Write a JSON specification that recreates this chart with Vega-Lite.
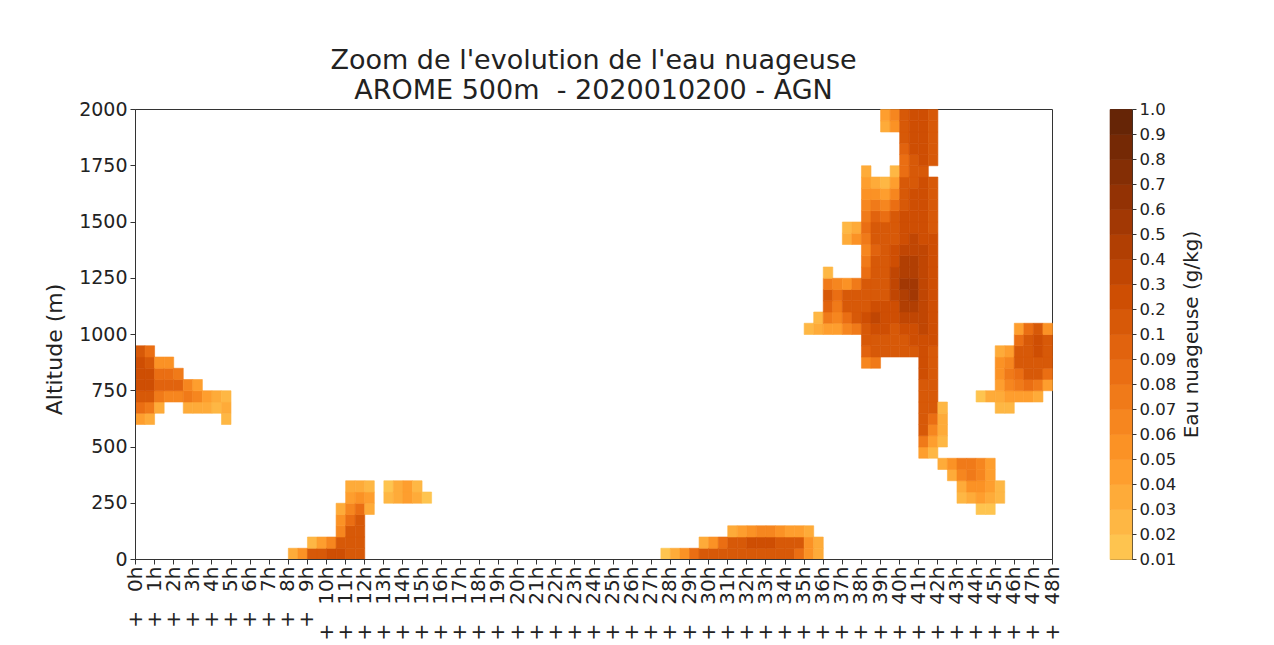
{
 "$schema": "https://vega.github.io/schema/vega-lite/v6.json",
 "background": "white",
 "padding": {"left": 43, "top": 46, "right": 5, "bottom": 5},
 "config": {"font": "DejaVu Sans", "view": {"stroke": "#333", "strokeWidth": 1}, "axis": {"grid": false, "domainColor": "#333", "tickColor": "#333", "labelColor": "#222", "titleColor": "#222", "titleFontWeight": "normal"}},
 "bounds": "flush",
 "spacing": 58,
 "resolve": {"scale": {"color": "independent", "stroke": "independent"}},
 "hconcat": [
  {
   "width": 917, "height": 450,
   "title": {"text": ["Zoom de l'evolution de l'eau nuageuse", "AROME 500m\u00a0 - 2020010200 - AGN"], "fontSize": 27, "fontWeight": "normal", "lineHeight": 30, "anchor": "middle", "offset": -5, "color": "#222"},
   "data": {"values": [
{"h":0,"a":600,"q":0.04},{"h":0,"a":650,"q":0.08},{"h":0,"a":700,"q":0.15},{"h":0,"a":750,"q":0.25},{"h":0,"a":800,"q":0.25},{"h":0,"a":850,"q":0.2},{"h":0,"a":900,"q":0.12},
{"h":0.5,"a":600,"q":0.03},{"h":0.5,"a":650,"q":0.07},{"h":0.5,"a":700,"q":0.12},{"h":0.5,"a":750,"q":0.2},{"h":0.5,"a":800,"q":0.2},{"h":0.5,"a":850,"q":0.15},{"h":0.5,"a":900,"q":0.08},
{"h":1,"a":650,"q":0.03},{"h":1,"a":700,"q":0.07},{"h":1,"a":750,"q":0.09},{"h":1,"a":800,"q":0.08},{"h":1,"a":850,"q":0.05},
{"h":1.5,"a":700,"q":0.06},{"h":1.5,"a":750,"q":0.09},{"h":1.5,"a":800,"q":0.08},{"h":1.5,"a":850,"q":0.05},
{"h":2,"a":700,"q":0.06},{"h":2,"a":750,"q":0.09},{"h":2,"a":800,"q":0.07},
{"h":2.5,"a":650,"q":0.03},{"h":2.5,"a":700,"q":0.07},{"h":2.5,"a":750,"q":0.06},
{"h":3,"a":650,"q":0.03},{"h":3,"a":700,"q":0.06},{"h":3,"a":750,"q":0.04},
{"h":3.5,"a":650,"q":0.03},{"h":3.5,"a":700,"q":0.04},
{"h":4,"a":650,"q":0.02},{"h":4,"a":700,"q":0.03},
{"h":4.5,"a":600,"q":0.02},{"h":4.5,"a":650,"q":0.03},{"h":4.5,"a":700,"q":0.02},
{"h":8,"a":0,"q":0.03},{"h":8.5,"a":0,"q":0.05},{"h":9,"a":0,"q":0.1},{"h":9,"a":50,"q":0.02},{"h":9.5,"a":0,"q":0.15},{"h":9.5,"a":50,"q":0.04},{"h":10,"a":0,"q":0.2},{"h":10,"a":50,"q":0.06},
{"h":10.5,"a":0,"q":0.2},{"h":10.5,"a":50,"q":0.1},{"h":10.5,"a":100,"q":0.06},{"h":10.5,"a":150,"q":0.05},{"h":10.5,"a":200,"q":0.03},
{"h":11,"a":0,"q":0.15},{"h":11,"a":50,"q":0.12},{"h":11,"a":100,"q":0.1},{"h":11,"a":150,"q":0.08},{"h":11,"a":200,"q":0.06},{"h":11,"a":250,"q":0.04},{"h":11,"a":300,"q":0.03},
{"h":11.5,"a":0,"q":0.1},{"h":11.5,"a":50,"q":0.15},{"h":11.5,"a":100,"q":0.12},{"h":11.5,"a":150,"q":0.1},{"h":11.5,"a":200,"q":0.08},{"h":11.5,"a":250,"q":0.05},{"h":11.5,"a":300,"q":0.03},
{"h":12,"a":200,"q":0.03},{"h":12,"a":250,"q":0.04},{"h":12,"a":300,"q":0.02},
{"h":13,"a":250,"q":0.02},{"h":13,"a":300,"q":0.015},{"h":13.5,"a":250,"q":0.03},{"h":13.5,"a":300,"q":0.03},{"h":14,"a":250,"q":0.04},{"h":14,"a":300,"q":0.04},{"h":14.5,"a":250,"q":0.03},{"h":14.5,"a":300,"q":0.02},{"h":15,"a":250,"q":0.015},
{"h":27.5,"a":0,"q":0.015},{"h":28,"a":0,"q":0.03},{"h":28.5,"a":0,"q":0.05},{"h":29,"a":0,"q":0.08},
{"h":29.5,"a":0,"q":0.1},{"h":29.5,"a":50,"q":0.03},
{"h":30,"a":0,"q":0.15},{"h":30,"a":50,"q":0.05},
{"h":30.5,"a":0,"q":0.15},{"h":30.5,"a":50,"q":0.08},
{"h":31,"a":0,"q":0.15},{"h":31,"a":50,"q":0.1},{"h":31,"a":100,"q":0.03},
{"h":31.5,"a":0,"q":0.12},{"h":31.5,"a":50,"q":0.12},{"h":31.5,"a":100,"q":0.04},
{"h":32,"a":0,"q":0.12},{"h":32,"a":50,"q":0.2},{"h":32,"a":100,"q":0.05},
{"h":32.5,"a":0,"q":0.12},{"h":32.5,"a":50,"q":0.22},{"h":32.5,"a":100,"q":0.06},
{"h":33,"a":0,"q":0.12},{"h":33,"a":50,"q":0.25},{"h":33,"a":100,"q":0.06},
{"h":33.5,"a":0,"q":0.1},{"h":33.5,"a":50,"q":0.15},{"h":33.5,"a":100,"q":0.05},
{"h":34,"a":0,"q":0.1},{"h":34,"a":50,"q":0.12},{"h":34,"a":100,"q":0.04},
{"h":34.5,"a":0,"q":0.08},{"h":34.5,"a":50,"q":0.1},{"h":34.5,"a":100,"q":0.04},
{"h":35,"a":0,"q":0.05},{"h":35,"a":50,"q":0.05},{"h":35,"a":100,"q":0.03},
{"h":35.5,"a":0,"q":0.03},{"h":35.5,"a":50,"q":0.03},
{"h":35,"a":1000,"q":0.02},
{"h":35.5,"a":1000,"q":0.03},{"h":35.5,"a":1050,"q":0.02},
{"h":36,"a":1000,"q":0.04},{"h":36,"a":1050,"q":0.07},{"h":36,"a":1100,"q":0.09},{"h":36,"a":1150,"q":0.12},{"h":36,"a":1200,"q":0.07},{"h":36,"a":1250,"q":0.02},
{"h":36.5,"a":1000,"q":0.04},{"h":36.5,"a":1050,"q":0.06},{"h":36.5,"a":1100,"q":0.07},{"h":36.5,"a":1150,"q":0.08},{"h":36.5,"a":1200,"q":0.06},
{"h":37,"a":1000,"q":0.06},{"h":37,"a":1050,"q":0.08},{"h":37,"a":1100,"q":0.1},{"h":37,"a":1150,"q":0.12},{"h":37,"a":1200,"q":0.05},{"h":37,"a":1400,"q":0.03},{"h":37,"a":1450,"q":0.02},
{"h":37.5,"a":1000,"q":0.07},{"h":37.5,"a":1050,"q":0.1},{"h":37.5,"a":1100,"q":0.12},{"h":37.5,"a":1150,"q":0.12},{"h":37.5,"a":1200,"q":0.07},{"h":37.5,"a":1400,"q":0.05},{"h":37.5,"a":1450,"q":0.03},
{"h":38,"a":850,"q":0.06},{"h":38,"a":900,"q":0.09},{"h":38,"a":950,"q":0.12},{"h":38,"a":1000,"q":0.15},{"h":38,"a":1050,"q":0.2},{"h":38,"a":1100,"q":0.15},{"h":38,"a":1150,"q":0.12},{"h":38,"a":1200,"q":0.1},{"h":38,"a":1250,"q":0.08},{"h":38,"a":1300,"q":0.07},{"h":38,"a":1350,"q":0.06},{"h":38,"a":1400,"q":0.07},{"h":38,"a":1450,"q":0.08},{"h":38,"a":1500,"q":0.07},{"h":38,"a":1550,"q":0.06},{"h":38,"a":1600,"q":0.05},{"h":38,"a":1650,"q":0.04},{"h":38,"a":1700,"q":0.03},
{"h":38.5,"a":850,"q":0.07},{"h":38.5,"a":900,"q":0.1},{"h":38.5,"a":950,"q":0.15},{"h":38.5,"a":1000,"q":0.25},{"h":38.5,"a":1050,"q":0.3},{"h":38.5,"a":1100,"q":0.25},{"h":38.5,"a":1150,"q":0.15},{"h":38.5,"a":1200,"q":0.12},{"h":38.5,"a":1250,"q":0.1},{"h":38.5,"a":1300,"q":0.1},{"h":38.5,"a":1350,"q":0.09},{"h":38.5,"a":1400,"q":0.1},{"h":38.5,"a":1450,"q":0.1},{"h":38.5,"a":1500,"q":0.09},{"h":38.5,"a":1550,"q":0.07},{"h":38.5,"a":1600,"q":0.05},{"h":38.5,"a":1650,"q":0.03},
{"h":39,"a":900,"q":0.1},{"h":39,"a":950,"q":0.15},{"h":39,"a":1000,"q":0.2},{"h":39,"a":1050,"q":0.25},{"h":39,"a":1100,"q":0.2},{"h":39,"a":1150,"q":0.15},{"h":39,"a":1200,"q":0.15},{"h":39,"a":1250,"q":0.15},{"h":39,"a":1300,"q":0.12},{"h":39,"a":1350,"q":0.12},{"h":39,"a":1400,"q":0.1},{"h":39,"a":1450,"q":0.1},{"h":39,"a":1500,"q":0.08},{"h":39,"a":1550,"q":0.06},{"h":39,"a":1600,"q":0.04},{"h":39,"a":1650,"q":0.02},{"h":39,"a":1900,"q":0.03},{"h":39,"a":1950,"q":0.04},
{"h":39.5,"a":900,"q":0.1},{"h":39.5,"a":950,"q":0.12},{"h":39.5,"a":1000,"q":0.15},{"h":39.5,"a":1050,"q":0.2},{"h":39.5,"a":1100,"q":0.25},{"h":39.5,"a":1150,"q":0.3},{"h":39.5,"a":1200,"q":0.3},{"h":39.5,"a":1250,"q":0.3},{"h":39.5,"a":1300,"q":0.25},{"h":39.5,"a":1350,"q":0.2},{"h":39.5,"a":1400,"q":0.15},{"h":39.5,"a":1450,"q":0.12},{"h":39.5,"a":1500,"q":0.1},{"h":39.5,"a":1550,"q":0.08},{"h":39.5,"a":1600,"q":0.06},{"h":39.5,"a":1650,"q":0.04},{"h":39.5,"a":1700,"q":0.02},{"h":39.5,"a":1900,"q":0.05},{"h":39.5,"a":1950,"q":0.06},
{"h":40,"a":900,"q":0.12},{"h":40,"a":950,"q":0.15},{"h":40,"a":1000,"q":0.2},{"h":40,"a":1050,"q":0.3},{"h":40,"a":1100,"q":0.4},{"h":40,"a":1150,"q":0.45},{"h":40,"a":1200,"q":0.5},{"h":40,"a":1250,"q":0.45},{"h":40,"a":1300,"q":0.4},{"h":40,"a":1350,"q":0.3},{"h":40,"a":1400,"q":0.25},{"h":40,"a":1450,"q":0.2},{"h":40,"a":1500,"q":0.2},{"h":40,"a":1550,"q":0.15},{"h":40,"a":1600,"q":0.12},{"h":40,"a":1650,"q":0.1},{"h":40,"a":1700,"q":0.08},{"h":40,"a":1750,"q":0.08},{"h":40,"a":1800,"q":0.09},{"h":40,"a":1850,"q":0.1},{"h":40,"a":1900,"q":0.1},{"h":40,"a":1950,"q":0.1},
{"h":40.5,"a":900,"q":0.15},{"h":40.5,"a":950,"q":0.2},{"h":40.5,"a":1000,"q":0.25},{"h":40.5,"a":1050,"q":0.3},{"h":40.5,"a":1100,"q":0.4},{"h":40.5,"a":1150,"q":0.5},{"h":40.5,"a":1200,"q":0.5},{"h":40.5,"a":1250,"q":0.45},{"h":40.5,"a":1300,"q":0.4},{"h":40.5,"a":1350,"q":0.35},{"h":40.5,"a":1400,"q":0.3},{"h":40.5,"a":1450,"q":0.25},{"h":40.5,"a":1500,"q":0.2},{"h":40.5,"a":1550,"q":0.2},{"h":40.5,"a":1600,"q":0.2},{"h":40.5,"a":1650,"q":0.15},{"h":40.5,"a":1700,"q":0.15},{"h":40.5,"a":1750,"q":0.15},{"h":40.5,"a":1800,"q":0.2},{"h":40.5,"a":1850,"q":0.2},{"h":40.5,"a":1900,"q":0.2},{"h":40.5,"a":1950,"q":0.2},
{"h":41,"a":450,"q":0.04},{"h":41,"a":500,"q":0.07},{"h":41,"a":550,"q":0.1},{"h":41,"a":600,"q":0.12},{"h":41,"a":650,"q":0.15},{"h":41,"a":700,"q":0.15},{"h":41,"a":750,"q":0.15},{"h":41,"a":800,"q":0.2},{"h":41,"a":850,"q":0.2},{"h":41,"a":900,"q":0.2},{"h":41,"a":950,"q":0.25},{"h":41,"a":1000,"q":0.3},{"h":41,"a":1050,"q":0.3},{"h":41,"a":1100,"q":0.35},{"h":41,"a":1150,"q":0.35},{"h":41,"a":1200,"q":0.35},{"h":41,"a":1250,"q":0.3},{"h":41,"a":1300,"q":0.3},{"h":41,"a":1350,"q":0.3},{"h":41,"a":1400,"q":0.25},{"h":41,"a":1450,"q":0.25},{"h":41,"a":1500,"q":0.2},{"h":41,"a":1550,"q":0.2},{"h":41,"a":1600,"q":0.2},{"h":41,"a":1650,"q":0.2},{"h":41,"a":1700,"q":0.15},{"h":41,"a":1750,"q":0.2},{"h":41,"a":1800,"q":0.25},{"h":41,"a":1850,"q":0.25},{"h":41,"a":1900,"q":0.25},{"h":41,"a":1950,"q":0.2},
{"h":41.5,"a":450,"q":0.02},{"h":41.5,"a":500,"q":0.04},{"h":41.5,"a":550,"q":0.06},{"h":41.5,"a":600,"q":0.08},{"h":41.5,"a":650,"q":0.1},{"h":41.5,"a":700,"q":0.12},{"h":41.5,"a":750,"q":0.12},{"h":41.5,"a":800,"q":0.15},{"h":41.5,"a":850,"q":0.15},{"h":41.5,"a":900,"q":0.15},{"h":41.5,"a":950,"q":0.2},{"h":41.5,"a":1000,"q":0.2},{"h":41.5,"a":1050,"q":0.2},{"h":41.5,"a":1100,"q":0.25},{"h":41.5,"a":1150,"q":0.25},{"h":41.5,"a":1200,"q":0.25},{"h":41.5,"a":1250,"q":0.2},{"h":41.5,"a":1300,"q":0.2},{"h":41.5,"a":1350,"q":0.2},{"h":41.5,"a":1400,"q":0.2},{"h":41.5,"a":1450,"q":0.15},{"h":41.5,"a":1500,"q":0.15},{"h":41.5,"a":1550,"q":0.15},{"h":41.5,"a":1600,"q":0.12},{"h":41.5,"a":1650,"q":0.1},{"h":41.5,"a":1750,"q":0.12},{"h":41.5,"a":1800,"q":0.15},{"h":41.5,"a":1850,"q":0.15},{"h":41.5,"a":1900,"q":0.15},{"h":41.5,"a":1950,"q":0.12},
{"h":42,"a":500,"q":0.02},{"h":42,"a":550,"q":0.03},{"h":42,"a":600,"q":0.03},{"h":42,"a":650,"q":0.02},
{"h":42,"a":400,"q":0.03},
{"h":42.5,"a":350,"q":0.03},{"h":42.5,"a":400,"q":0.05},
{"h":43,"a":250,"q":0.02},{"h":43,"a":300,"q":0.03},{"h":43,"a":350,"q":0.06},{"h":43,"a":400,"q":0.07},
{"h":43.5,"a":250,"q":0.03},{"h":43.5,"a":300,"q":0.05},{"h":43.5,"a":350,"q":0.07},{"h":43.5,"a":400,"q":0.07},
{"h":44,"a":200,"q":0.015},{"h":44,"a":250,"q":0.04},{"h":44,"a":300,"q":0.05},{"h":44,"a":350,"q":0.06},{"h":44,"a":400,"q":0.06},
{"h":44.5,"a":200,"q":0.015},{"h":44.5,"a":250,"q":0.03},{"h":44.5,"a":300,"q":0.04},{"h":44.5,"a":350,"q":0.04},{"h":44.5,"a":400,"q":0.04},
{"h":45,"a":250,"q":0.02},{"h":45,"a":300,"q":0.02},
{"h":44,"a":700,"q":0.015},
{"h":44.5,"a":700,"q":0.03},
{"h":45,"a":650,"q":0.02},{"h":45,"a":700,"q":0.03},{"h":45,"a":750,"q":0.04},{"h":45,"a":800,"q":0.05},{"h":45,"a":850,"q":0.05},{"h":45,"a":900,"q":0.03},
{"h":45.5,"a":650,"q":0.02},{"h":45.5,"a":700,"q":0.04},{"h":45.5,"a":750,"q":0.06},{"h":45.5,"a":800,"q":0.07},{"h":45.5,"a":850,"q":0.06},{"h":45.5,"a":900,"q":0.04},
{"h":46,"a":700,"q":0.04},{"h":46,"a":750,"q":0.07},{"h":46,"a":800,"q":0.08},{"h":46,"a":850,"q":0.1},{"h":46,"a":900,"q":0.1},{"h":46,"a":950,"q":0.08},{"h":46,"a":1000,"q":0.04},
{"h":46.5,"a":700,"q":0.04},{"h":46.5,"a":750,"q":0.08},{"h":46.5,"a":800,"q":0.1},{"h":46.5,"a":850,"q":0.12},{"h":46.5,"a":900,"q":0.15},{"h":46.5,"a":950,"q":0.15},{"h":46.5,"a":1000,"q":0.08},
{"h":47,"a":700,"q":0.03},{"h":47,"a":750,"q":0.07},{"h":47,"a":800,"q":0.1},{"h":47,"a":850,"q":0.12},{"h":47,"a":900,"q":0.2},{"h":47,"a":950,"q":0.2},{"h":47,"a":1000,"q":0.1},
{"h":47.5,"a":750,"q":0.04},{"h":47.5,"a":800,"q":0.08},{"h":47.5,"a":850,"q":0.1},{"h":47.5,"a":900,"q":0.12},{"h":47.5,"a":950,"q":0.1},{"h":47.5,"a":1000,"q":0.05}
   ]},
   "mark": {"type": "rect", "strokeWidth": 0.6},
   "encoding": {
    "x": {"field": "h", "type": "quantitative", "bin": {"step": 0.5, "extent": [0, 48]}, "scale": {"domain": [0, 48], "nice": false},
     "axis": {"title": null, "values": [0,1,2,3,4,5,6,7,8,9,10,11,12,13,14,15,16,17,18,19,20,21,22,23,24,25,26,27,28,29,30,31,32,33,34,35,36,37,38,39,40,41,42,43,44,45,46,47,48], "labelExpr": "'+\u00a0\u00a0\u00a0' + datum.value + 'h'", "labelAngle": 270, "labelFontSize": 20, "labelOverlap": false, "labelFlush": false, "tickSize": 5, "labelPadding": 2}},
    "y": {"field": "a", "type": "quantitative", "bin": {"step": 50, "extent": [0, 2000]}, "scale": {"domain": [0, 2000], "nice": false},
     "axis": {"title": "Altitude (m)", "values": [0,250,500,750,1000,1250,1500,1750,2000], "format": "d", "labelFontSize": 19, "titleFontSize": 22, "tickSize": 5, "labelPadding": 3, "titlePadding": 12, "titleY": 240}},
    "color": {"field": "q", "type": "quantitative", "legend": null, "scale": {"type": "threshold", "domain": [0.02,0.03,0.04,0.05,0.06,0.07,0.08,0.09,0.1,0.2,0.3,0.4,0.5,0.6,0.7,0.8,0.9], "range": ["#fec44f","#feb744","#feab39","#fe9e2e","#fb9225","#f6861f","#f07a19","#ea6e13","#e1630e","#d75908","#ce4e03","#c04603","#b13f03","#a23804","#933204","#842e05","#752905","#662506"]}},
    "stroke": {"field": "q", "type": "quantitative", "legend": null, "scale": {"type": "threshold", "domain": [0.02,0.03,0.04,0.05,0.06,0.07,0.08,0.09,0.1,0.2,0.3,0.4,0.5,0.6,0.7,0.8,0.9], "range": ["#fec44f","#feb744","#feab39","#fe9e2e","#fb9225","#f6861f","#f07a19","#ea6e13","#e1630e","#d75908","#ce4e03","#c04603","#b13f03","#a23804","#933204","#842e05","#752905","#662506"]}}
   }
  },
  {
   "width": 22, "height": 450,
   "data": {"values": [
    {"i":0,"v":0.015},{"i":1,"v":0.025},{"i":2,"v":0.035},{"i":3,"v":0.045},{"i":4,"v":0.055},{"i":5,"v":0.065},{"i":6,"v":0.075},{"i":7,"v":0.085},{"i":8,"v":0.095},
    {"i":9,"v":0.15},{"i":10,"v":0.25},{"i":11,"v":0.35},{"i":12,"v":0.45},{"i":13,"v":0.55},{"i":14,"v":0.65},{"i":15,"v":0.75},{"i":16,"v":0.85},{"i":17,"v":0.95}
   ]},
   "mark": {"type": "rect", "strokeWidth": 0.6},
   "encoding": {
    "y": {"field": "i", "type": "quantitative", "bin": {"step": 1, "extent": [0, 18]}, "scale": {"domain": [0, 18], "nice": false},
     "axis": {"orient": "right", "values": [0,1,2,3,4,5,6,7,8,9,10,11,12,13,14,15,16,17,18], "labelExpr": "['0.01','0.02','0.03','0.04','0.05','0.06','0.07','0.08','0.09','0.1','0.2','0.3','0.4','0.5','0.6','0.7','0.8','0.9','1.0'][datum.value]", "labelFontSize": 16.5, "tickSize": 4, "domain": false, "labelPadding": 3, "title": "Eau nuageuse (g/kg)", "titleFontSize": 20, "titleAngle": 270, "titleBaseline": "top", "titlePadding": 6}},
    "color": {"field": "v", "type": "quantitative", "legend": null, "scale": {"type": "threshold", "domain": [0.02,0.03,0.04,0.05,0.06,0.07,0.08,0.09,0.1,0.2,0.3,0.4,0.5,0.6,0.7,0.8,0.9], "range": ["#fec44f","#feb744","#feab39","#fe9e2e","#fb9225","#f6861f","#f07a19","#ea6e13","#e1630e","#d75908","#ce4e03","#c04603","#b13f03","#a23804","#933204","#842e05","#752905","#662506"]}},
    "stroke": {"field": "v", "type": "quantitative", "legend": null, "scale": {"type": "threshold", "domain": [0.02,0.03,0.04,0.05,0.06,0.07,0.08,0.09,0.1,0.2,0.3,0.4,0.5,0.6,0.7,0.8,0.9], "range": ["#fec44f","#feb744","#feab39","#fe9e2e","#fb9225","#f6861f","#f07a19","#ea6e13","#e1630e","#d75908","#ce4e03","#c04603","#b13f03","#a23804","#933204","#842e05","#752905","#662506"]}}
   }
  }
 ]
}
